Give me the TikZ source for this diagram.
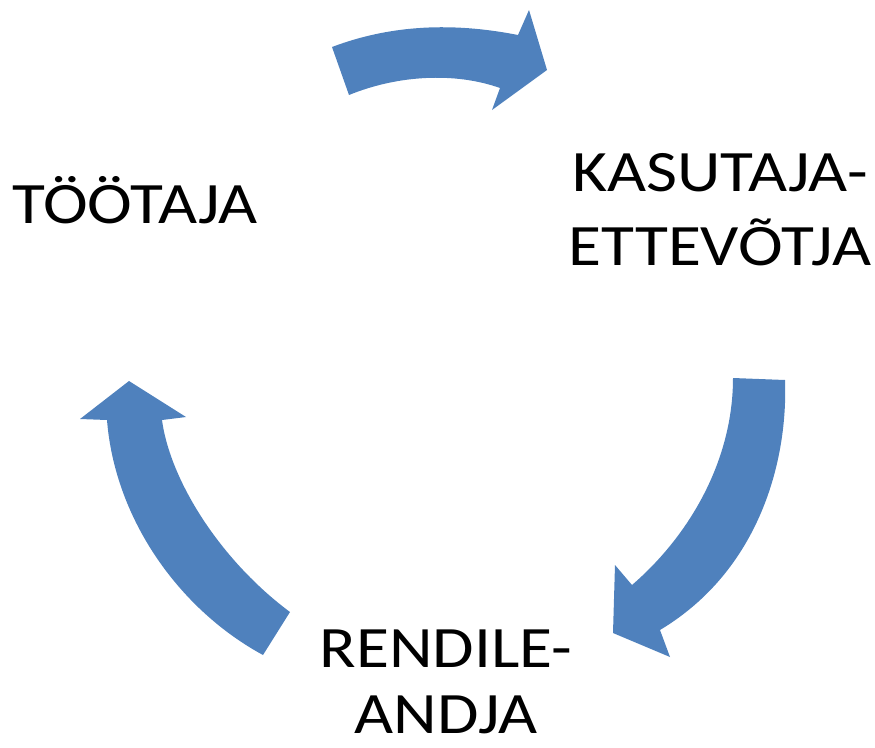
\documentclass[tikz,border=0pt]{standalone}
\usepackage{fontspec}
\setmainfont[FakeStretch=1.15]{Carlito}
\definecolor{arrowblue}{RGB}{79,129,189}
\tikzset{every picture/.style={line width=0.75pt}}
\tikzset{cyclearrow/.style={fill=arrowblue, draw=none},
         partylabel/.style={inner sep=0pt, align=center, font=\fontsize{44}{55}\selectfont}}

\begin{document}
\begin{tikzpicture}[x=0.75pt,y=0.75pt,yscale=-1,xscale=1]
%set diagram left start at 0, and has height of 747
\useasboundingbox (0,0) rectangle (875,747);

%Shape: Curved Right Arrow [id:top]
\draw [cyclearrow] (332,47) .. controls (398,22) and (462,24) .. (518,35) -- (529,10) -- (547,70) -- (492,110) -- (500,88) .. controls (455,72) and (398,75) .. (349,95) -- cycle ;
%Shape: Curved Down Arrow [id:right]
\draw [cyclearrow] (733,378) -- (785,380) .. controls (788,460) and (760,570) .. (660,630) -- (670,657) -- (613,633) -- (615,565) -- (632,585) .. controls (690,535) and (733,460) .. (733,378) -- cycle ;
%Shape: Curved Up Arrow [id:left]
\draw [cyclearrow] (290,612) -- (263,655) .. controls (180,610) and (115,520) .. (107,420) -- (80,419) -- (129,381) -- (186,417) -- (162,420) .. controls (170,480) and (220,560) .. (290,612) -- cycle ;

% Text Node
\node (tootaja) [partylabel, anchor=base] at (135,223) {TÖÖTAJA};
% Text Node
\node (kasutaja) [partylabel, anchor=base] at (720,265) {KASUTAJA-\\ETTEVÕTJA};
% Text Node
\node (rendile) [partylabel, font=\fontsize{44}{49}\selectfont, anchor=base] at (446,733) {RENDILE-\\ANDJA};

\end{tikzpicture}
\end{document}
